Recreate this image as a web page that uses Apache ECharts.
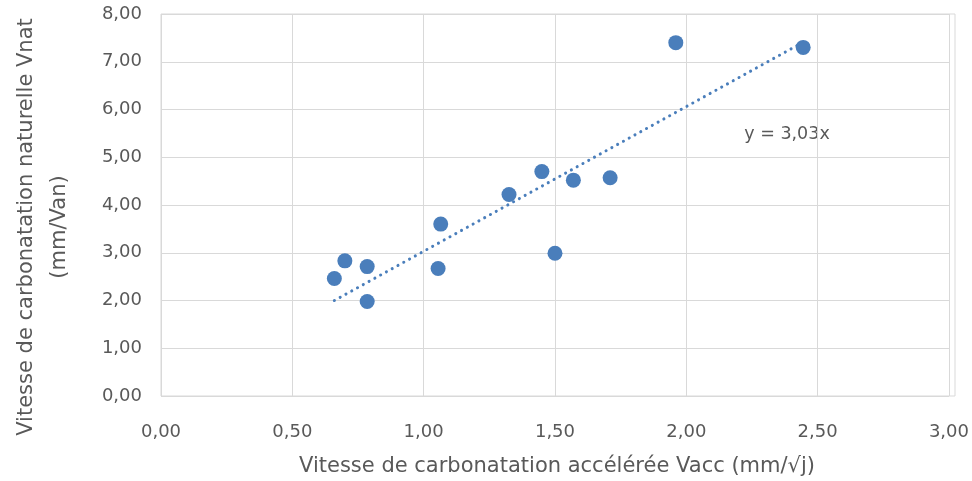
<!DOCTYPE html>
<html>
<head>
<meta charset="utf-8">
<script src="https://cdn.jsdelivr.net/npm/echarts@6/dist/echarts.min.js"></script>
<style>html,body{margin:0;padding:0;background:#fff;}#c{width:972px;height:481px;}</style>
</head>
<body>
<div id="c"></div>
<script>
var xValues = [0.66, 0.70, 0.785, 0.785, 1.055, 1.065, 1.325, 1.45, 1.50, 1.57, 1.71, 1.96, 2.445];
var yValues = [2.46, 2.83, 2.71, 1.98, 2.67, 3.60, 4.22, 4.70, 2.99, 4.52, 4.57, 7.40, 7.30];
var trendX = [0.66, 2.445];
var trendY = [2.00, 7.41];
var trendLabel = 'y = 3,03x';
var xTitle = 'Vitesse de carbonatation accélérée Vacc (mm/√j)';
var yTitle = 'Vitesse de carbonatation naturelle Vnat\n(mm/Van)';

var FONT = 'DejaVu Sans';
var TXT = '#595959';
var BLUE = '#4a7ebb';

var chart = echarts.init(document.getElementById('c'));
var pts = xValues.map(function (x, i) { return [x, yValues[i]]; });
var trend = trendX.map(function (x, i) { return [x, trendY[i]]; });

function fmt(v) { return v.toFixed(2).replace('.', ','); }

chart.setOption({
  animation: false,
  grid: { left: 161, right: 17, top: 14, bottom: 85 },
  xAxis: {
    type: 'value', min: 0, max: 3, interval: 0.5,
    axisLine: { show: false }, axisTick: { show: false },
    splitLine: { show: true, lineStyle: { color: '#d9d9d9', width: 1 } },
    axisLabel: { color: TXT, fontFamily: FONT, fontSize: 18, margin: 27, formatter: fmt }
  },
  yAxis: {
    type: 'value', min: 0, max: 8, interval: 1,
    axisLine: { show: false }, axisTick: { show: false },
    splitLine: { show: true, lineStyle: { color: '#d9d9d9', width: 1 } },
    axisLabel: { color: TXT, fontFamily: FONT, fontSize: 18, margin: 19, formatter: fmt }
  },
  graphic: [
    { type: 'rect', shape: { x: 161, y: 14, width: 794, height: 382 }, style: { fill: 'none', stroke: '#d9d9d9', lineWidth: 1 }, silent: true, z: -1 },
    { type: 'text', x: 557, y: 467, style: { text: xTitle, fill: TXT, font: '21px "' + FONT + '"', align: 'center', verticalAlign: 'middle' } },
    { type: 'text', x: 43, y: 227, rotation: Math.PI / 2, style: { text: yTitle, fill: TXT, font: '21px "' + FONT + '"', align: 'center', verticalAlign: 'middle', lineHeight: 33 } },
    { type: 'text', x: 787, y: 134, style: { text: trendLabel, fill: TXT, font: '17.5px "' + FONT + '"', align: 'center', verticalAlign: 'middle' } }
  ],
  series: [
    {
      type: 'line', data: trend, symbol: 'none', z: 1,
      lineStyle: { color: BLUE, width: 3, type: [0.1, 6.5], cap: 'round' }
    },
    {
      type: 'scatter', data: pts, symbol: 'circle', symbolSize: 15, z: 2,
      itemStyle: { color: BLUE, opacity: 1 }
    }
  ]
});
</script>
</body>
</html>
